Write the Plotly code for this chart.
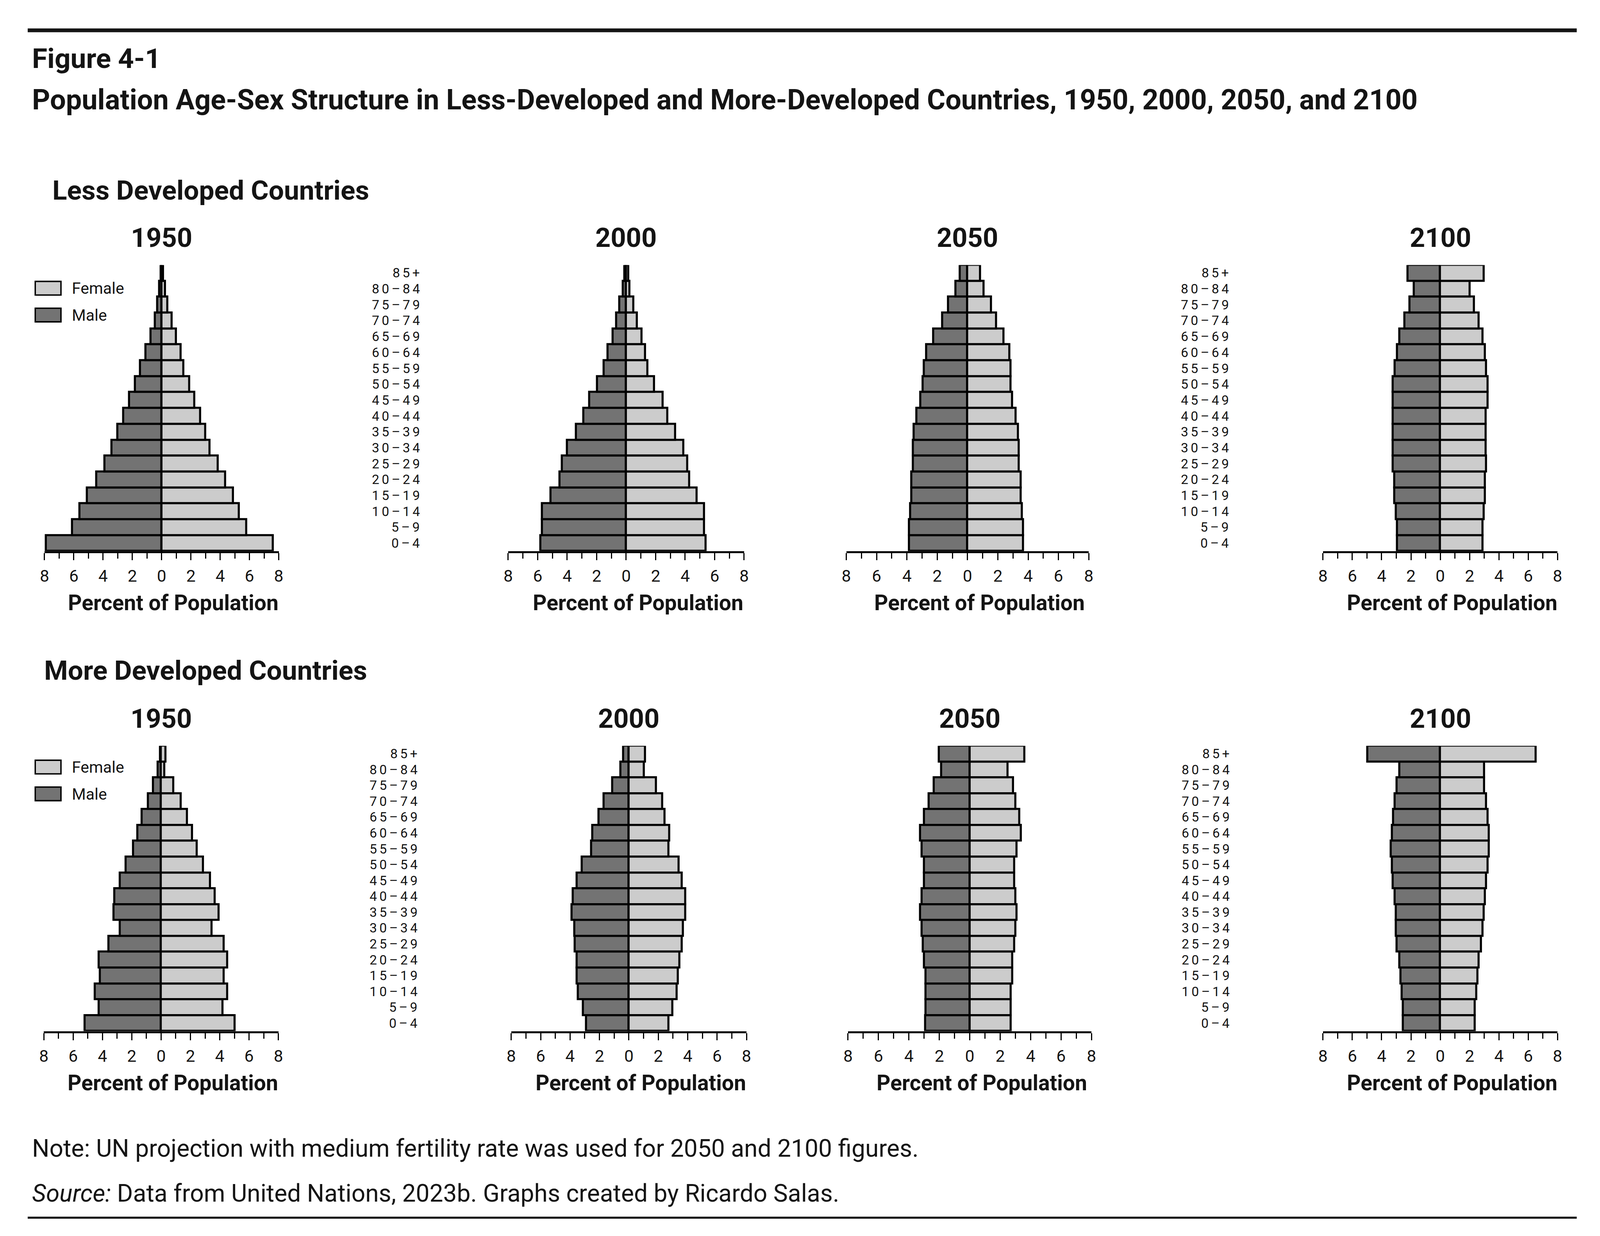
import plotly.graph_objects as go

# reference canvas, used to turn pixel measurements into paper fractions
W, H = 4620, 3164
# css px per reference px (the page is rendered a bit smaller than the window)
S = 0.89

ages = ["0\u20134", "5\u20139", "10\u201314", "15\u201319", "20\u201324", "25\u201329", "30\u201334",
        "35\u201339", "40\u201344", "45\u201349", "50\u201354", "55\u201359", "60\u201364", "65\u201369",
        "70\u201374", "75\u201379", "80\u201384", "85+"]

# percent of population, ordered 0-4 ... 85+
ldc_1950_male = [7.9, 6.1, 5.6, 5.1, 4.45, 3.9, 3.4, 3.0, 2.6, 2.2, 1.8, 1.45, 1.1, 0.75, 0.45, 0.3, 0.15, 0.05]
ldc_1950_female = [7.6, 5.8, 5.3, 4.9, 4.35, 3.85, 3.3, 3.0, 2.65, 2.25, 1.9, 1.5, 1.3, 1.0, 0.7, 0.4, 0.25, 0.1]
ldc_2000_male = [5.8, 5.7, 5.7, 5.1, 4.5, 4.35, 4.0, 3.4, 2.9, 2.5, 1.95, 1.5, 1.25, 0.9, 0.65, 0.45, 0.2, 0.1]
ldc_2000_female = [5.4, 5.3, 5.3, 4.8, 4.3, 4.15, 3.9, 3.35, 2.8, 2.5, 1.9, 1.45, 1.3, 1.05, 0.75, 0.5, 0.25, 0.15]
ldc_2050_male = [3.85, 3.85, 3.77, 3.7, 3.7, 3.6, 3.6, 3.53, 3.37, 3.1, 2.96, 2.88, 2.72, 2.24, 1.66, 1.27, 0.77, 0.5]
ldc_2050_female = [3.67, 3.67, 3.6, 3.52, 3.52, 3.4, 3.4, 3.35, 3.18, 2.95, 2.86, 2.86, 2.77, 2.4, 1.89, 1.57, 1.08, 0.84]
ldc_2100_male = [2.94, 2.94, 3.03, 3.13, 3.13, 3.22, 3.22, 3.22, 3.22, 3.22, 3.22, 3.11, 2.94, 2.77, 2.44, 2.09, 1.78, 2.21]
ldc_2100_female = [2.89, 2.89, 2.98, 3.06, 3.06, 3.15, 3.11, 3.11, 3.11, 3.24, 3.24, 3.15, 3.06, 2.89, 2.63, 2.32, 2.02, 2.98]

mdc_1950_male = [5.19, 4.24, 4.5, 4.15, 4.24, 3.58, 2.81, 3.22, 3.17, 2.81, 2.4, 1.91, 1.61, 1.31, 0.89, 0.54, 0.23, 0.05]
mdc_1950_female = [5.02, 4.2, 4.53, 4.27, 4.53, 4.29, 3.46, 3.94, 3.68, 3.35, 2.86, 2.45, 2.12, 1.79, 1.35, 0.85, 0.23, 0.31]
mdc_2000_male = [2.89, 3.12, 3.46, 3.54, 3.54, 3.66, 3.7, 3.89, 3.8, 3.54, 3.2, 2.55, 2.47, 2.04, 1.7, 1.11, 0.55, 0.38]
mdc_2000_female = [2.71, 2.97, 3.26, 3.35, 3.44, 3.61, 3.68, 3.85, 3.85, 3.61, 3.39, 2.71, 2.76, 2.45, 2.28, 1.85, 1.04, 1.11]
mdc_2050_male = [2.93, 2.9, 2.9, 2.9, 2.99, 3.08, 3.16, 3.25, 3.16, 2.99, 2.99, 3.16, 3.25, 2.99, 2.68, 2.35, 1.87, 2.03]
mdc_2050_female = [2.7, 2.7, 2.7, 2.81, 2.81, 2.93, 3.02, 3.1, 3.02, 2.93, 2.93, 3.1, 3.36, 3.27, 3.02, 2.87, 2.49, 3.59]
mdc_2100_male = [2.53, 2.53, 2.61, 2.7, 2.79, 2.96, 3.03, 3.03, 3.11, 3.22, 3.29, 3.37, 3.29, 3.2, 3.11, 2.96, 2.79, 4.95]
mdc_2100_female = [2.37, 2.37, 2.46, 2.54, 2.63, 2.8, 2.89, 2.98, 3.06, 3.15, 3.24, 3.32, 3.32, 3.24, 3.15, 3.01, 3.01, 6.52]

years = ["1950", "2000", "2050", "2100"]
major_ticks = [-8, -6, -4, -2, 0, 2, 4, 6, 8]
major_text = [str(abs(v)) for v in major_ticks]

MALE_COLOR = "#737373"
FEMALE_COLOR = "#cccccc"
INK = "#141414"
FONT = "Roboto"


def fx(px):
    return px / W


def fy(py):
    return 1 - py / H


def sz(v):
    return v * S


# (male, female, x-domain px, y-domain top/bottom px, right edge of age labels or None)
panels = [
    (ldc_1950_male, ldc_1950_female, (107, 790), (674, 1410), None),
    (ldc_2000_male, ldc_2000_female, (1459, 2147), (674, 1410), 1210),
    (ldc_2050_male, ldc_2050_female, (2445, 3152), (674, 1410), None),
    (ldc_2100_male, ldc_2100_female, (3835, 4519), (674, 1410), 3569),
    (mdc_1950_male, mdc_1950_female, (105, 789), (1911, 2645), None),
    (mdc_2000_male, mdc_2000_female, (1468, 2154), (1911, 2645), 1203),
    (mdc_2050_male, mdc_2050_female, (2450, 3160), (1911, 2645), None),
    (mdc_2100_male, mdc_2100_female, (3835, 4519), (1911, 2645), 3571),
]

fig = go.Figure()
annotations = []
layout_axes = {}

for i, (male, female, xdom, ydom, label_edge) in enumerate(panels):
    n = i + 1
    xa = "x" if n == 1 else f"x{n}"
    ya = "y" if n == 1 else f"y{n}"
    fig.add_trace(go.Bar(
        x=[-v for v in male], y=ages, orientation="h", xaxis=xa, yaxis=ya,
        marker=dict(color=MALE_COLOR, line=dict(color="black", width=sz(6))),
        name="Male", showlegend=False,
    ))
    fig.add_trace(go.Bar(
        x=female, y=ages, orientation="h", xaxis=xa, yaxis=ya,
        marker=dict(color=FEMALE_COLOR, line=dict(color="black", width=sz(6))),
        name="Female", showlegend=False,
    ))
    xkey = "xaxis" if n == 1 else f"xaxis{n}"
    ykey = "yaxis" if n == 1 else f"yaxis{n}"
    layout_axes[xkey] = dict(
        domain=[fx(xdom[0]), fx(xdom[1])], anchor=ya, range=[-8, 8],
        tickmode="array", tickvals=major_ticks, ticktext=major_text,
        ticks="outside", ticklen=sz(20), tickwidth=sz(3), tickcolor="black",
        minor=dict(dtick=1, ticks="outside", ticklen=sz(16), tickwidth=sz(3), tickcolor="black"),
        showline=True, linewidth=sz(6), linecolor="black",
        showgrid=False, zeroline=False, fixedrange=True,
        tickfont=dict(family=FONT, size=sz(48), color=INK), ticklabelstandoff=4,
    )
    layout_axes[ykey] = dict(
        domain=[fy(ydom[1]), fy(ydom[0])], anchor=xa, type="category",
        categoryorder="array", categoryarray=ages, range=[-0.5, 17.5],
        showline=False, showgrid=False, zeroline=False, ticks="",
        showticklabels=False, fixedrange=True,
    )
    if label_edge is not None:
        # age labels are set with wide tracking, as in the original
        for age in ages:
            annotations.append(dict(
                text=f'<span style="letter-spacing:{sz(7):.1f}px">{age}</span>',
                xref="paper", x=fx(label_edge), yref=ya, y=age,
                xanchor="right", yanchor="middle", showarrow=False, borderpad=0,
                font=dict(family=FONT, size=sz(38), color=INK),
            ))
    # year title centred over zero, and axis label
    year_y = 604 if ydom[0] < 1000 else 1841
    annotations.append(dict(
        text=f"<b>{years[i % 4]}</b>", xref=xa, x=0, yref="paper", y=fy(year_y),
        xanchor="center", yanchor="middle", showarrow=False,
        font=dict(family=FONT, size=sz(77), color=INK),
    ))
    annotations.append(dict(
        text="<b>Percent of Population</b>", xref=f"{xa} domain", x=0.55,
        yref="paper", y=fy(ydom[1] + 133), xanchor="center", yanchor="middle",
        showarrow=False, font=dict(family=FONT, size=sz(62), color=INK),
    ))

# headings and notes
notes = [
    dict(text="<b>Figure 4-1</b>", x=fx(68), y=fy(142), size=80),
    dict(text="<b>Population Age-Sex Structure in Less-Developed and More-Developed Countries, "
              "1950, 2000, 2050, and 2100</b>", x=fx(68), y=fy(249), size=81),
    dict(text="<b>Less Developed Countries</b>", x=fx(128), y=fy(482), size=78),
    dict(text="<b>More Developed Countries</b>", x=fx(104), y=fy(1717), size=78),
    dict(text="Note: UN projection with medium fertility rate was used for 2050 and 2100 figures.",
         x=fx(68), y=fy(2946), size=70),
    dict(text="<i>Source:</i> Data from United Nations, 2023b. Graphs created by Ricardo Salas.",
         x=fx(68), y=fy(3062), size=70),
]
for nt in notes:
    annotations.append(dict(
        text=nt["text"], xref="paper", yref="paper", x=nt["x"], y=nt["y"],
        xanchor="left", yanchor="middle", showarrow=False,
        font=dict(family=FONT, size=sz(nt["size"]), color=INK),
    ))

shapes = [
    dict(type="line", xref="paper", yref="paper", x0=fx(58), x1=fx(4575), y0=fy(70), y1=fy(70),
         line=dict(color=INK, width=sz(11))),
    dict(type="line", xref="paper", yref="paper", x0=fx(58), x1=fx(4575), y0=fy(3125), y1=fy(3125),
         line=dict(color=INK, width=sz(6))),
]
# legends in the 1950 panels
for top in (716, 1948):
    for j, (label, color) in enumerate([("Female", FEMALE_COLOR), ("Male", MALE_COLOR)]):
        y0 = top + j * 69
        shapes.append(dict(type="rect", xref="paper", yref="paper",
                           x0=fx(80), x1=fx(155), y0=fy(y0), y1=fy(y0 + 35),
                           fillcolor=color, line=dict(color="black", width=sz(4))))
        annotations.append(dict(text=label, xref="paper", yref="paper", x=fx(185), y=fy(y0 + 18),
                                xanchor="left", yanchor="middle", showarrow=False,
                                font=dict(family=FONT, size=sz(46), color=INK)))

fig.update_layout(
    autosize=True, margin=dict(l=0, r=0, t=0, b=0),
    paper_bgcolor="white", plot_bgcolor="white",
    barmode="overlay", bargap=0, showlegend=False,
    annotations=annotations, shapes=shapes, **layout_axes,
)

fig.write_html("out.html")
